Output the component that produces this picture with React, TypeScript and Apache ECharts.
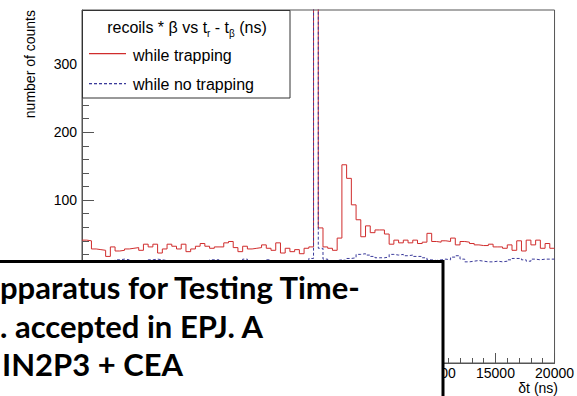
import React, { useEffect, useRef } from "react";
import * as echarts from "echarts";

// Histogram binning (ns)
const X_MIN = -20000;
const X_MAX = 20000;
const BIN_WIDTH = 400;

// "while trapping" counts per 400 ns bin, from -20000 ns to +20000 ns
const trappingCounts = [
  41, 40, 28, 27, 26, 17, 31, 25, 26, 28,
  29, 30, 26, 35, 31, 35, 22, 28, 35, 32,
  28, 35, 24, 28, 32, 36, 32, 29, 31, 31,
  37, 39, 30, 24, 32, 28, 29, 30, 34, 29,
  26, 37, 22, 29, 24, 27, 21, 29, 31, 2000,
  59, 31, 29, 26, 44, 152, 132, 93, 71, 46,
  62, 52, 56, 56, 50, 35, 41, 37, 41, 37,
  41, 36, 38, 51, 39, 38, 40, 39, 44, 34,
  39, 38, 36, 34, 33, 33, 35, 31, 31, 29,
  34, 26, 40, 25, 41, 34, 41, 29, 36, 29,
];

// "while no trapping" counts per 400 ns bin
const noTrappingCounts = [
  9, 8, 10, 9, 11, 10, 9, 12, 13, 12,
  10, 9, 8, 10, 12, 13, 12, 11, 9, 10,
  8, 9, 10, 9, 10, 9, 8, 12, 12, 10,
  9, 8, 10, 9, 13, 10, 9, 8, 10, 12,
  9, 8, 9, 10, 9, 8, 9, 10, 14, 1800,
  29, 13, 10, 11, 12, 11, 14, 15, 20, 21,
  19, 17, 15, 15, 16, 20, 19, 20, 18, 19,
  17, 17, 15, 12, 11, 12, 13, 12, 16, 18,
  13, 9, 10, 11, 10, 9, 9, 10, 9, 10,
  12, 14, 14, 12, 10, 13, 12, 13, 13, 13,
];

const seriesNames = ["while trapping", "while no trapping"];
const legendHeader = "recoils * β vs t{s|r} - t{s|β} (ns)";
const yTitle = "number of counts";
const xTitle = "δt (ns)";
const yLabelValues = [100, 200, 300];
const xLabelValues = [10000, 15000, 20000];
const noteLines = ["pparatus for Testing Time-", ". accepted in EPJ. A", "IN2P3 + CEA"];

function toSteps(counts: number[]): number[][] {
  const pts = counts.map((v, i) => [X_MIN + i * BIN_WIDTH, v]);
  pts.push([X_MAX, counts[counts.length - 1]]);
  return pts;
}

const FONT = "Liberation Sans, Arial, sans-serif";
const AXIS_COLOR = "#555";
const RED = "#d02c2c";
const BLUE = "#3a3a9a";

// legend sample geometry (decoration only)
const SAMPLE_X0 = 89;
const SAMPLE_X1 = 126;

function dashedSample(y: number, color: string) {
  const els: any[] = [];
  for (let x = SAMPLE_X0; x < SAMPLE_X1; x += 5) {
    els.push({
      type: "rect",
      z: 16,
      shape: { x, y, width: Math.min(3, SAMPLE_X1 - x), height: 1.3 },
      style: { fill: color, stroke: null },
    });
  }
  return els;
}

export default function App() {
  const ref = useRef<HTMLDivElement>(null);
  useEffect(() => {
    document.body.style.margin = "0";
    if (!ref.current) return;
    const chart = echarts.init(ref.current, null, { renderer: "svg" });
    const noteStyle = { fontSize: 31, fontWeight: "bold", fontFamily: "Lato, sans-serif", fill: "#000", align: "left", verticalAlign: "middle" };
    chart.setOption({
      animation: false,
      backgroundColor: "#fff",
      grid: [
        { left: 82, right: 18, top: 10, bottom: 33, show: true, borderColor: AXIS_COLOR, borderWidth: 1, backgroundColor: "transparent" },
        { left: 82, right: 18, top: 10, bottom: 60.15, show: false },
      ],
      xAxis: [
        {
          gridIndex: 0,
          type: "value",
          min: X_MIN,
          max: X_MAX,
          interval: 5000,
          axisLine: { show: true, onZero: false, lineStyle: { color: AXIS_COLOR, width: 1 } },
          axisTick: { show: true, inside: true, length: 10, lineStyle: { color: AXIS_COLOR } },
          minorTick: { show: true, splitNumber: 5, length: 5, lineStyle: { color: AXIS_COLOR } },
          splitLine: { show: false },
          axisLabel: {
            show: true,
            margin: 3,
            fontSize: 14,
            fontFamily: FONT,
            color: "#000",
            showMaxLabel: true,
            formatter: (v: number) => (xLabelValues.indexOf(v) >= 0 ? String(v) : ""),
          },
        },
        {
          gridIndex: 1,
          type: "value",
          min: X_MIN,
          max: X_MAX,
          show: false,
          axisLine: { show: false, onZero: false },
          axisTick: { show: false },
          axisLabel: { show: false },
          splitLine: { show: false },
        },
      ],
      yAxis: [
        {
          gridIndex: 0,
          type: "value",
          min: -140,
          max: 380,
          axisLine: { show: false, onZero: false },
          axisTick: { show: false },
          axisLabel: { show: false },
          splitLine: { show: false },
        },
        {
          gridIndex: 1,
          type: "value",
          min: -100,
          max: 380,
          interval: 100,
          axisLine: { show: true, onZero: false, lineStyle: { color: AXIS_COLOR, width: 1 } },
          axisTick: { show: true, inside: true, length: 12, lineStyle: { color: AXIS_COLOR } },
          minorTick: { show: true, splitNumber: 5, length: 7, lineStyle: { color: AXIS_COLOR } },
          splitLine: { show: false },
          axisLabel: {
            show: true,
            margin: 5,
            fontSize: 14,
            fontFamily: FONT,
            color: "#000",
            formatter: (v: number) => (yLabelValues.indexOf(v) >= 0 ? String(v) : ""),
          },
        },
      ],
      series: [
        {
          name: seriesNames[0],
          type: "line",
          xAxisIndex: 0,
          yAxisIndex: 0,
          step: "end",
          symbol: "none",
          clip: true,
          data: toSteps(trappingCounts),
          lineStyle: { color: RED, width: 1 },
          itemStyle: { color: RED },
          z: 2,
        },
        {
          name: seriesNames[1],
          type: "line",
          xAxisIndex: 0,
          yAxisIndex: 0,
          step: "end",
          symbol: "none",
          clip: true,
          data: toSteps(noTrappingCounts),
          lineStyle: { color: BLUE, width: 1, type: [3, 2] },
          itemStyle: { color: BLUE },
          z: 3,
        },
      ],
      graphic: [
        {
          type: "rect",
          z: 15,
          shape: { x: 82.5, y: 10.5, width: 207.5, height: 87.5 },
          style: { fill: "#fff", stroke: "#333", lineWidth: 1 },
        },
        {
          type: "text",
          z: 16,
          x: 187,
          y: 27,
          style: {
            text: legendHeader,
            fontSize: 16,
            fontFamily: FONT,
            fill: "#000",
            align: "center",
            verticalAlign: "middle",
            rich: {
              s: { fontSize: 10, fontFamily: FONT, fill: "#000", verticalAlign: "bottom", lineHeight: 22 },
            },
          },
        },
        {
          type: "rect",
          z: 16,
          shape: { x: SAMPLE_X0, y: 53, width: SAMPLE_X1 - SAMPLE_X0, height: 1.3 },
          style: { fill: RED, stroke: null },
        },
        {
          type: "text",
          z: 16,
          x: 133,
          y: 55,
          style: { text: seriesNames[0], fontSize: 16, fontFamily: FONT, fill: "#000", align: "left", verticalAlign: "middle" },
        },
        ...dashedSample(83, BLUE),
        {
          type: "text",
          z: 16,
          x: 133,
          y: 84,
          style: { text: seriesNames[1], fontSize: 16, fontFamily: FONT, fill: "#000", align: "left", verticalAlign: "middle" },
        },
        {
          type: "text",
          z: 16,
          x: 30,
          y: 10,
          rotation: Math.PI / 2,
          style: { text: yTitle, fontSize: 14, fontFamily: FONT, fill: "#000", align: "right", verticalAlign: "middle" },
        },
        {
          type: "text",
          z: 16,
          x: 558,
          y: 388,
          style: { text: xTitle, fontSize: 14, fontFamily: FONT, fill: "#000", align: "right", verticalAlign: "middle" },
        },
        {
          type: "rect",
          z: 100,
          shape: { x: -10, y: 261.5, width: 453, height: 160 },
          style: { fill: "#fff", stroke: "#000", lineWidth: 3 },
        },
        { type: "text", z: 101, x: 0, y: 287, style: { ...noteStyle, text: noteLines[0] } },
        { type: "text", z: 101, x: 0, y: 326, style: { ...noteStyle, text: noteLines[1] } },
        { type: "text", z: 101, x: 2, y: 364, style: { ...noteStyle, text: noteLines[2] } },
      ],
    });
    return () => chart.dispose();
  }, []);
  return <div ref={ref} style={{ width: 577, height: 396 }} />;
}
